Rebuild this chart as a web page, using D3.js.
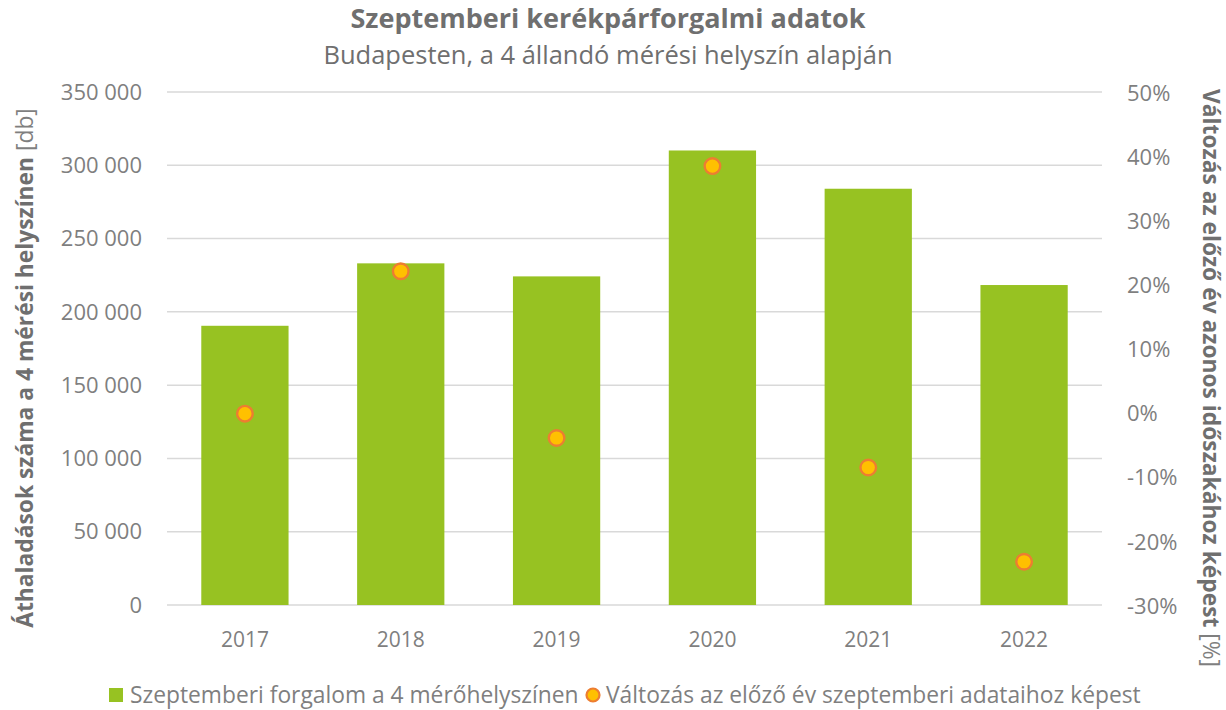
<!DOCTYPE html>
<html>
<head>
<meta charset="utf-8">
<script src="https://cdn.jsdelivr.net/npm/d3@7"></script>
<style>
  body { margin: 0; background: #fff; }
  svg { display: block; font-family: "Open Sans", "Noto Sans", sans-serif; }
</style>
</head>
<body>
<svg id="chart" width="1226" height="710"></svg>
<script>
// data
const years = ['2017', '2018', '2019', '2020', '2021', '2022'];
const traffic = [190500, 233100, 224200, 310100, 284000, 218300];
const change = [0.0, 0.222, -0.038, 0.386, -0.084, -0.231];
const leftTicks = [0, 50000, 100000, 150000, 200000, 250000, 300000, 350000];
const rightTicks = [-0.3, -0.2, -0.1, 0, 0.1, 0.2, 0.3, 0.4, 0.5];

const green = '#97c222', dotFill = '#ffc000', dotStroke = '#ed7d31';
const grey = '#7f7f7f', darkGrey = '#6f6f6f';

const loc = d3.formatLocale({decimal: ',', thousands: ' ', grouping: [3], currency: ['', ''], minus: '-'});
const fmtNum = loc.format(',d');
const fmtPct = loc.format('.0%');

const svg = d3.select('#chart');

const x = d3.scaleBand().domain(years).range([167, 1102]).paddingInner(0.44).paddingOuter(0.22);
const yL = d3.scaleLinear().domain([0, 350000]).range([605, 92]);
const yR = d3.scaleLinear().domain([-0.3, 0.5]).range([606, 93]);

// gridlines
svg.append('g').selectAll('line').data(leftTicks).join('line')
    .attr('x1', 167).attr('x2', 1102)
    .attr('y1', d => yL(d)).attr('y2', d => yL(d))
    .attr('stroke', '#d9d9d9').attr('stroke-width', 1.5);

// left axis labels
svg.append('g').selectAll('text').data(leftTicks).join('text')
    .attr('x', 142).attr('y', d => yL(d)).attr('dy', '0.35em')
    .attr('text-anchor', 'end').attr('font-size', 22).attr('fill', grey)
    .text(fmtNum);

// right axis labels
svg.append('g').selectAll('text').data(rightTicks).join('text')
    .attr('x', 1127).attr('y', d => yR(d)).attr('dy', '0.35em')
    .attr('font-size', 22).attr('fill', grey)
    .text(fmtPct);

// bars
svg.append('g').selectAll('rect').data(traffic).join('rect')
    .attr('x', (d, i) => x(years[i])).attr('width', x.bandwidth())
    .attr('y', d => yL(d)).attr('height', d => yL(0) - yL(d))
    .attr('fill', green);

// change dots
svg.append('g').selectAll('circle').data(change).join('circle')
    .attr('cx', (d, i) => x(years[i]) + x.bandwidth() / 2)
    .attr('cy', d => yR(d)).attr('r', 7.8)
    .attr('fill', dotFill).attr('stroke', dotStroke).attr('stroke-width', 2.4);

// category labels
svg.append('g').selectAll('text').data(years).join('text')
    .attr('x', d => x(d) + x.bandwidth() / 2).attr('y', 640).attr('dy', '0.35em')
    .attr('text-anchor', 'middle').attr('font-size', 21).attr('fill', grey)
    .text(d => d);

// titles
svg.append('text').attr('x', 608).attr('y', 28)
    .attr('text-anchor', 'middle').attr('font-size', 27).attr('font-weight', 'bold')
    .attr('fill', darkGrey).text('Szeptemberi kerékpárforgalmi adatok');
svg.append('text').attr('x', 608).attr('y', 64)
    .attr('text-anchor', 'middle').attr('font-size', 25.5).attr('fill', darkGrey)
    .text('Budapesten, a 4 állandó mérési helyszín alapján');

// axis titles
let lt = svg.append('text').attr('transform', 'translate(33,368) rotate(-90)')
    .attr('text-anchor', 'middle').attr('font-size', 22.8).attr('fill', darkGrey);
lt.append('tspan').attr('font-weight', 'bold').text('Áthaladások száma a 4 mérési helyszínen');
lt.append('tspan').attr('fill', grey).text(' [db]');

let rt = svg.append('text').attr('transform', 'translate(1203,378) rotate(90)')
    .attr('text-anchor', 'middle').attr('font-size', 22.8).attr('fill', darkGrey);
rt.append('tspan').attr('font-weight', 'bold').text('Változás az előző év azonos időszakához képest');
rt.append('tspan').attr('fill', grey).text(' [%]');

// legend
const leg = svg.append('g');
leg.append('rect').attr('x', 109).attr('y', 688).attr('width', 14).attr('height', 14).attr('fill', green);
leg.append('text').attr('x', 130).attr('y', 695).attr('dy', '0.35em')
    .attr('font-size', 22.8).attr('fill', grey).text('Szeptemberi forgalom a 4 mérőhelyszínen');
leg.append('circle').attr('cx', 593).attr('cy', 695).attr('r', 6.5)
    .attr('fill', dotFill).attr('stroke', dotStroke).attr('stroke-width', 2.2);
leg.append('text').attr('x', 606).attr('y', 695).attr('dy', '0.35em')
    .attr('font-size', 22.8).attr('fill', grey).text('Változás az előző év szeptemberi adataihoz képest');
</script>
</body>
</html>
